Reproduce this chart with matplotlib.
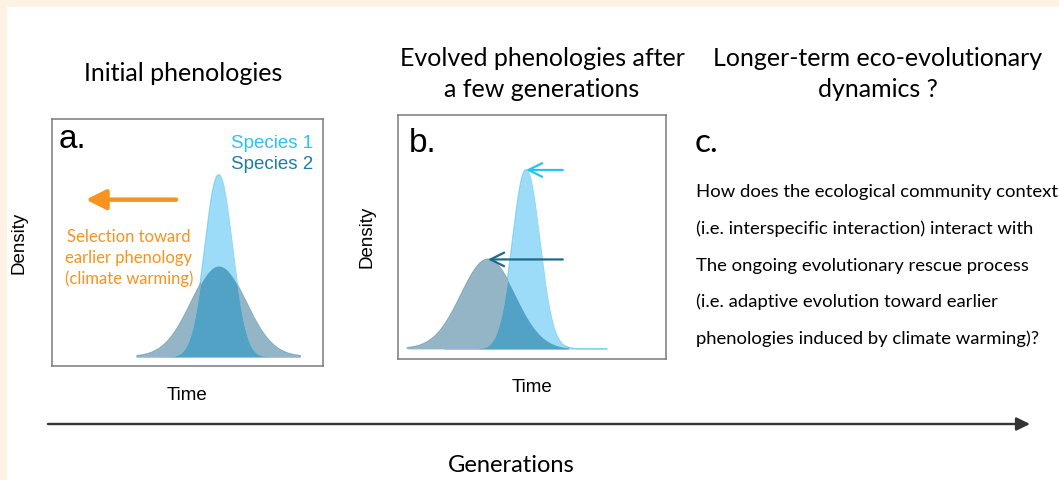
import numpy as np
import matplotlib
matplotlib.use('Agg')
import matplotlib.pyplot as plt
from matplotlib.patches import Rectangle

W, H = 1059, 480

# phenology curves (arbitrary time units), normal densities
species = ['Species 1', 'Species 2']
sd = [0.5, 1.0]
mean_initial = [6.15, 6.15]
mean_evolved = [4.78, 3.36]
spread = 3.0  # each curve drawn over mean +/- spread

titles_a = ['Initial phenologies']
titles_b = ['Evolved phenologies after', 'a few generations']
titles_c = ['Longer-term eco-evolutionary', 'dynamics ?']
selection_lines = ['Selection toward', 'earlier phenology', '(climate warming)']
body_lines = [
    'How does the ecological community context',
    '(i.e. interspecific interaction) interact with',
    'The ongoing evolutionary rescue process',
    '(i.e. adaptive evolution toward earlier',
    'phenologies induced by climate warming)?',
]

col_sp1 = '#9cdcf8'
col_sp2 = '#93b5c5'
col_both = '#52a2c6'
col_edge1 = '#86d3f5'
col_edge2 = '#86abbc'
col_txt1 = '#2cc1f4'
col_txt2 = '#1f7ca3'
col_arrow2 = '#1d6a8a'
orange = '#f7931e'
calibri = ['Lato', 'DejaVu Sans']
arial = ['Liberation Sans', 'DejaVu Sans']


def fx(x):
    return x / W


def fy(y):
    return 1 - y / H


def pdf(t, m, s):
    return np.exp(-0.5 * ((t - m) / s) ** 2) / (s * np.sqrt(2 * np.pi))


def draw_pheno(ax, means):
    lo = min(means) - spread
    hi = max(means) + spread
    t = np.linspace(lo, hi, 1500)
    dens = []
    inside = []
    for m, s in zip(means, sd):
        dens.append(pdf(t, m, s))
        inside.append((t >= m - spread) & (t <= m + spread))
    ax.fill_between(t, 0, dens[1], where=inside[1], color=col_sp2, lw=0, zorder=2)
    ax.fill_between(t, 0, dens[0], where=inside[0], color=col_sp1, lw=0, zorder=2)
    both = inside[0] & inside[1]
    ax.fill_between(t, 0, np.minimum(dens[0], dens[1]), where=both,
                    color=col_both, lw=0, zorder=3)
    # soft outlines, kept under the fills so only the outer edge shows
    ax.plot(t[inside[0]], dens[0][inside[0]], color=col_edge1, lw=1.3, zorder=1.9)
    ax.plot(t[inside[1]], dens[1][inside[1]], color=col_edge2, lw=1.3, zorder=1.9)


def style_box(ax, ylim):
    ax.set_xlim(0, 10)
    ax.set_ylim(*ylim)
    ax.set_xticks([])
    ax.set_yticks([])
    for sp in ax.spines.values():
        sp.set_color('#7a7a7a')
        sp.set_linewidth(1.1)


fig = plt.figure(figsize=(W / 100, H / 100), dpi=100, facecolor='#fdf2e4')
fig.add_artist(Rectangle((fx(7), 0), 1 - fx(7), fy(7), transform=fig.transFigure,
                         facecolor='white', edgecolor='none', zorder=-5))

# panel a
ax_a = fig.add_axes([fx(52), fy(366), fx(271), 247 / H])
draw_pheno(ax_a, mean_initial)
style_box(ax_a, (-0.04, 1.044))
ax_a.annotate('', xy=(1.25, 0.69), xytext=(4.58, 0.69),
              arrowprops=dict(arrowstyle='-|>,head_length=0.6,head_width=0.3',
                              color=orange, lw=3.2, mutation_scale=20,
                              shrinkA=0, shrinkB=0))

# panel b
ax_b = fig.add_axes([fx(398), fy(359), fx(268), 244 / H])
draw_pheno(ax_b, mean_evolved)
style_box(ax_b, (-0.045, 1.043))
for m0, m1, s, c in zip(mean_initial, mean_evolved, sd, [col_txt1, col_arrow2]):
    peak = pdf(m1, m1, s)
    ax_b.annotate('', xy=(m1, peak), xytext=(m0, peak),
                  arrowprops=dict(arrowstyle='->,head_length=0.7,head_width=0.35',
                                  color=c, lw=1.6, mutation_scale=14,
                                  shrinkA=0, shrinkB=0), zorder=5)

# titles
fig.text(fx(183), fy(81), titles_a[0], ha='center', va='baseline', fontsize=18, family=calibri)
for i, (lb, lc) in enumerate(zip(titles_b, titles_c)):
    fig.text(fx(542), fy(66 + 31 * i), lb, ha='center', va='baseline', fontsize=18, family=calibri)
    fig.text(fx(878), fy(66 + 31 * i), lc, ha='center', va='baseline', fontsize=18, family=calibri)

# panel letters
fig.text(fx(59), fy(148), 'a.', ha='left', va='baseline', fontsize=24, family=arial)
fig.text(fx(409), fy(152), 'b.', ha='left', va='baseline', fontsize=24, family=arial)
fig.text(fx(695), fy(152), 'c.', ha='left', va='baseline', fontsize=24, family=calibri)

# legend text
fig.text(fx(313), fy(148), species[0], ha='right', va='baseline', fontsize=13.5,
         color=col_txt1, family=arial)
fig.text(fx(313), fy(169), species[1], ha='right', va='baseline', fontsize=13.5,
         color=col_txt2, family=arial)

for i, line in enumerate(selection_lines):
    fig.text(fx(129), fy(242 + 21 * i), line, ha='center', va='baseline', fontsize=12,
             color=orange, family=calibri)

# axis labels
fig.text(fx(19), fy(243), 'Density', rotation=90, ha='center', va='center', fontsize=13.5, family=arial)
fig.text(fx(367), fy(237), 'Density', rotation=90, ha='center', va='center', fontsize=13.5, family=arial)
fig.text(fx(187), fy(400), 'Time', ha='center', va='baseline', fontsize=13.5, family=arial)
fig.text(fx(532), fy(392), 'Time', ha='center', va='baseline', fontsize=13.5, family=arial)

# panel c question
for i, line in enumerate(body_lines):
    fig.text(fx(696), fy(197 + 36.8 * i), line, ha='left', va='baseline', fontsize=13.3, family=calibri)

# generations arrow
fig.add_artist(matplotlib.patches.FancyArrowPatch(
    (fx(48), fy(424)), (fx(1030), fy(424)), transform=fig.transFigure,
    arrowstyle='-|>,head_length=0.45,head_width=0.22', mutation_scale=18,
    color='#333333', lw=1.7, shrinkA=0, shrinkB=0))
fig.text(fx(511), fy(472), 'Generations', ha='center', va='baseline', fontsize=17, family=calibri)

fig.savefig('out.png', dpi=100, facecolor=fig.get_facecolor())
